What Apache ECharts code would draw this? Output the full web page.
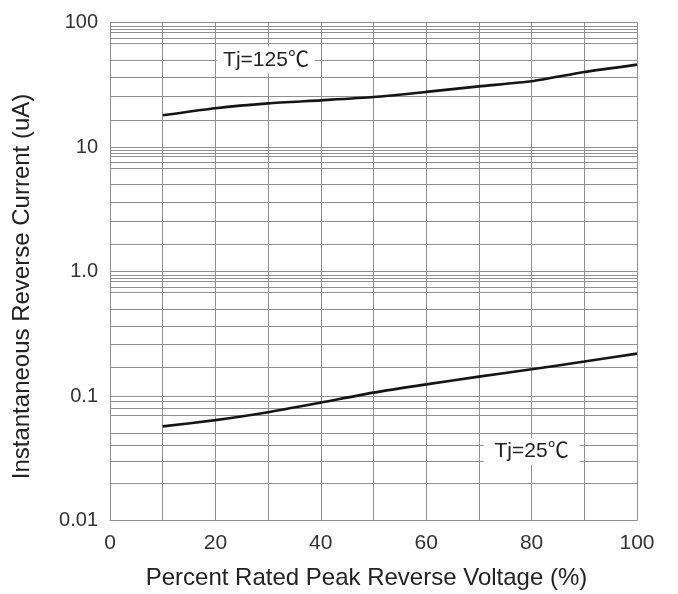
<!DOCTYPE html>
<html>
<head>
<meta charset="utf-8">
<style>
    html, body { margin: 0; padding: 0; background: #fff; }
    #chart { width: 678px; height: 594px; }
</style>
<script src="https://cdn.jsdelivr.net/npm/echarts@6/dist/echarts.min.js"></script>
</head>
<body>
<div id="chart"></div>
<script>
// percent of rated peak reverse voltage
const voltage = [10, 20, 30, 40, 50, 60, 70, 80, 90, 100];
// reverse current (uA)
const current125 = [18.0, 20.5, 22.4, 23.7, 25.2, 27.7, 30.7, 33.7, 40.0, 45.9];
const current25 = [0.057, 0.064, 0.074, 0.0885, 0.1065, 0.124, 0.143, 0.164, 0.189, 0.219];
const xTickLabels = [0, 20, 40, 60, 80, 100];
const decades = [0.01, 0.1, 1, 10];
// the printed grid lines inside each decade (multiples of the decade start)
const minorSteps = [1.65, 2.55, 3.6, 5.0, 6.8, 7.5, 8.4, 8.9, 9.4];

const gridColor = '#8f8f8f';
const font = '"Liberation Sans", Arial, "Noto Sans CJK SC", sans-serif';

let minorLines = [];
decades.forEach(d => {
    minorSteps.forEach(m => minorLines.push({ yAxis: +(d * m).toPrecision(4) }));
});

let chart = echarts.init(document.getElementById('chart'));

let option = {
    animation: false,
    backgroundColor: '#fff',
    grid: {
        left: 110,
        right: 41,
        top: 22.5,
        bottom: 73.5,
        containLabel: false,
        outerBoundsMode: 'none'
    },
    xAxis: {
        type: 'value',
        min: 0,
        max: 100,
        interval: 10,
        name: 'Percent Rated Peak Reverse Voltage (%)',
        nameLocation: 'middle',
        nameGap: 46,
        nameTextStyle: {
            fontFamily: font,
            fontSize: 24,
            color: '#222',
            padding: [0, 14, 0, 0]
        },
        axisLine: { show: true, lineStyle: { color: gridColor, width: 1 } },
        axisTick: { show: false },
        axisLabel: {
            fontFamily: font,
            fontSize: 21,
            color: '#333',
            margin: 12,
            formatter: v => xTickLabels.includes(v) ? String(v) : ''
        },
        splitLine: { show: true, lineStyle: { color: gridColor, width: 1 } }
    },
    yAxis: {
        type: 'log',
        logBase: 10,
        min: 0.01,
        max: 100,
        name: 'Instantaneous Reverse Current (uA)',
        nameLocation: 'middle',
        nameGap: 76,
        nameRotate: 90,
        nameTextStyle: {
            fontFamily: font,
            fontSize: 24,
            color: '#222',
            padding: [0, 30, 0, 0]
        },
        axisLine: { show: true, lineStyle: { color: gridColor, width: 1 } },
        axisTick: { show: false },
        axisLabel: {
            fontFamily: font,
            fontSize: 20,
            color: '#333',
            margin: 12,
            padding: [0, 0, 7, 0],
            formatter: v => v === 1 ? '1.0' : String(v)
        },
        splitLine: { show: true, lineStyle: { color: gridColor, width: 1 } }
    },
    series: [
        {
            name: 'Tj=125',
            type: 'line',
            data: voltage.map((v, i) => [v, current125[i]]),
            showSymbol: false,
            smooth: 0.2,
            lineStyle: { color: '#151515', width: 2.6 },
            z: 10,
            markLine: {
                silent: true,
                z: 1,
                symbol: ['none', 'none'],
                label: { show: false },
                lineStyle: { color: gridColor, width: 1, type: 'solid' },
                data: minorLines
            },
            markPoint: {
                silent: true,
                symbol: 'rect',
                symbolSize: 0,
                z: 5,
                label: {
                    show: true,
                    position: 'inside',
                    formatter: 'Tj=125℃',
                    fontFamily: font,
                    fontSize: 21,
                    color: '#222',
                    backgroundColor: '#fff',
                    padding: [3, 6]
                },
                data: [{ coord: [29.6, 50] }]
            }
        },
        {
            name: 'Tj=25',
            type: 'line',
            data: voltage.map((v, i) => [v, current25[i]]),
            showSymbol: false,
            smooth: 0.2,
            lineStyle: { color: '#151515', width: 2.6 },
            z: 10,
            markPoint: {
                silent: true,
                symbol: 'rect',
                symbolSize: 0,
                z: 5,
                label: {
                    show: true,
                    position: 'inside',
                    formatter: 'Tj=25℃',
                    fontFamily: font,
                    fontSize: 21,
                    color: '#222',
                    backgroundColor: '#fff',
                    padding: [3, 11]
                },
                data: [{ coord: [80, 0.036] }]
            }
        }
    ]
};

chart.setOption(option);
window.addEventListener('resize', () => chart.resize());
</script>
</body>
</html>
